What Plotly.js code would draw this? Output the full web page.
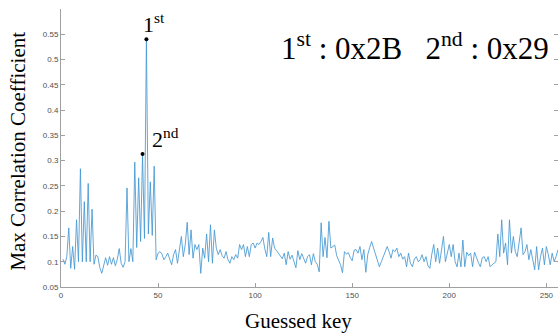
<!DOCTYPE html>
<html>
<head>
<meta charset="utf-8">
<script src="https://cdn.plot.ly/plotly-3.0.1.min.js"></script>
<style>html,body{margin:0;padding:0;background:#fff;}#chart{width:558px;height:336px;}</style>
</head>
<body>
<div id="chart"></div>
<script>
// Max correlation coefficient for each guessed key (plotted at index 1..256)
const corrValues = [
0.105,0.095,0.11,0.167,0.087,0.13,0.085,0.183,0.1,0.284,
0.1,0.219,0.1,0.255,0.1,0.204,0.095,0.113,0.11,0.088,
0.077,0.09,0.108,0.093,0.11,0.095,0.108,0.092,0.105,0.126,
0.097,0.089,0.1,0.246,0.1,0.126,0.1,0.297,0.128,0.266,
0.14,0.313,0.146,0.54,0.155,0.258,0.152,0.289,0.104,0.117,
0.12,0.115,0.104,0.11,0.117,0.105,0.094,0.114,0.124,0.097,
0.12,0.15,0.11,0.134,0.178,0.114,0.163,0.107,0.134,0.124,
0.134,0.077,0.127,0.107,0.155,0.1,0.173,0.097,0.163,0.127,
0.114,0.124,0.112,0.107,0.12,0.104,0.097,0.11,0.104,0.114,
0.107,0.134,0.124,0.134,0.11,0.13,0.11,0.134,0.137,0.127,
0.137,0.134,0.14,0.148,0.125,0.11,0.158,0.11,0.147,0.127,
0.122,0.117,0.11,0.106,0.117,0.094,0.12,0.105,0.113,0.1,
0.088,0.122,0.104,0.116,0.108,0.097,0.11,0.114,0.094,0.116,
0.1,0.095,0.08,0.177,0.11,0.148,0.108,0.18,0.127,0.13,
0.133,0.112,0.104,0.094,0.078,0.12,0.115,0.118,0.108,0.102,
0.123,0.124,0.117,0.13,0.104,0.124,0.079,0.114,0.128,0.14,
0.127,0.115,0.1,0.09,0.1,0.11,0.118,0.13,0.12,0.107,
0.124,0.12,0.127,0.11,0.117,0.105,0.11,0.09,0.117,0.097,
0.09,0.105,0.11,0.1,0.104,0.114,0.1,0.11,0.092,0.087,
0.115,0.134,0.1,0.127,0.097,0.12,0.15,0.1,0.117,0.134,
0.11,0.134,0.1,0.09,0.117,0.09,0.143,0.09,0.119,0.112,
0.117,0.09,0.119,0.106,0.098,0.09,0.108,0.11,0.1,0.11,
0.09,0.094,0.097,0.1,0.155,0.11,0.183,0.117,0.137,0.094,
0.183,0.117,0.15,0.12,0.11,0.137,0.167,0.114,0.12,0.134,
0.104,0.124,0.1,0.084,0.13,0.084,0.11,0.127,0.094,0.13,
0.114,0.094,0.117,0.1,0.11,0.124
];
const keyIndex = corrValues.map((v, i) => i + 1);
const firstKey = 0x2B, secondKey = 0x29;
const xTickVals = [0, 50, 100, 150, 200, 250];
const yTickVals = [0.05, 0.1, 0.15, 0.2, 0.25, 0.3, 0.35, 0.4, 0.45, 0.5, 0.55];
const yTickText = ['0.05','0.1','0.15','0.2','0.25','0.3','0.35','0.4','0.45','0.5','0.55'];

const firstX = firstKey + 1, secondX = secondKey + 1;
const firstY = corrValues[firstKey], secondY = corrValues[secondKey];

const serif = 'Liberation Serif, Times New Roman, serif';
const traces = [
  {x: keyIndex, y: corrValues, type: 'scatter', mode: 'lines',
   line: {color: '#4497d2', width: 0.85}, hoverinfo: 'skip'},
  {x: [firstX, secondX], y: [firstY, secondY], type: 'scatter', mode: 'markers',
   marker: {color: '#000', size: 4}, hoverinfo: 'skip'}
];

const axisCommon = {
  showgrid: false, zeroline: false, showline: true, linecolor: '#a0a0a0', linewidth: 1,
  ticks: 'inside', ticklen: 4, tickcolor: '#a0a0a0',
  tickfont: {family: 'Liberation Sans, Arial, sans-serif', size: 8, color: '#505050'}
};

const layout = {
  width: 558, height: 336,
  margin: {l: 61, r: 0, t: 9, b: 49},
  paper_bgcolor: '#fff', plot_bgcolor: '#fff',
  showlegend: false,
  xaxis: Object.assign({}, axisCommon, {range: [0, 256], tickvals: xTickVals}),
  yaxis: Object.assign({}, axisCommon, {range: [0.05, 0.6], tickvals: yTickVals, ticktext: yTickText, mirror: 'ticks'}),
  annotations: [
    {x: firstX, y: firstY, xref: 'x', yref: 'y', text: '1<sup>st</sup>', showarrow: false,
     xanchor: 'center', yanchor: 'bottom', xshift: 8, yshift: 0,
     font: {family: serif, size: 22, color: '#000'}},
    {x: secondX, y: secondY, xref: 'x', yref: 'y', text: '2<sup>nd</sup>', showarrow: false,
     xanchor: 'left', yanchor: 'bottom', xshift: 7, yshift: 0,
     font: {family: serif, size: 22, color: '#000'}},
    {x: 0.985, y: 0.865, xref: 'paper', yref: 'paper',
     text: '1<sup>st</sup> : 0x2B   2<sup>nd</sup> : 0x29', showarrow: false,
     xanchor: 'right', yanchor: 'middle', font: {family: serif, size: 31, color: '#000'}},
    {x: -0.0865, y: 0.487, xref: 'paper', yref: 'paper', text: 'Max Correlation Coefficient',
     textangle: -90, showarrow: false, xanchor: 'center', yanchor: 'middle',
     font: {family: serif, size: 21, color: '#000'}},
    {x: 0.478, y: -0.122, xref: 'paper', yref: 'paper', text: 'Guessed key', showarrow: false,
     xanchor: 'center', yanchor: 'middle', font: {family: serif, size: 21, color: '#000'}}
  ]
};

Plotly.newPlot('chart', traces, layout, {displayModeBar: false, staticPlot: true});
</script>
</body>
</html>
